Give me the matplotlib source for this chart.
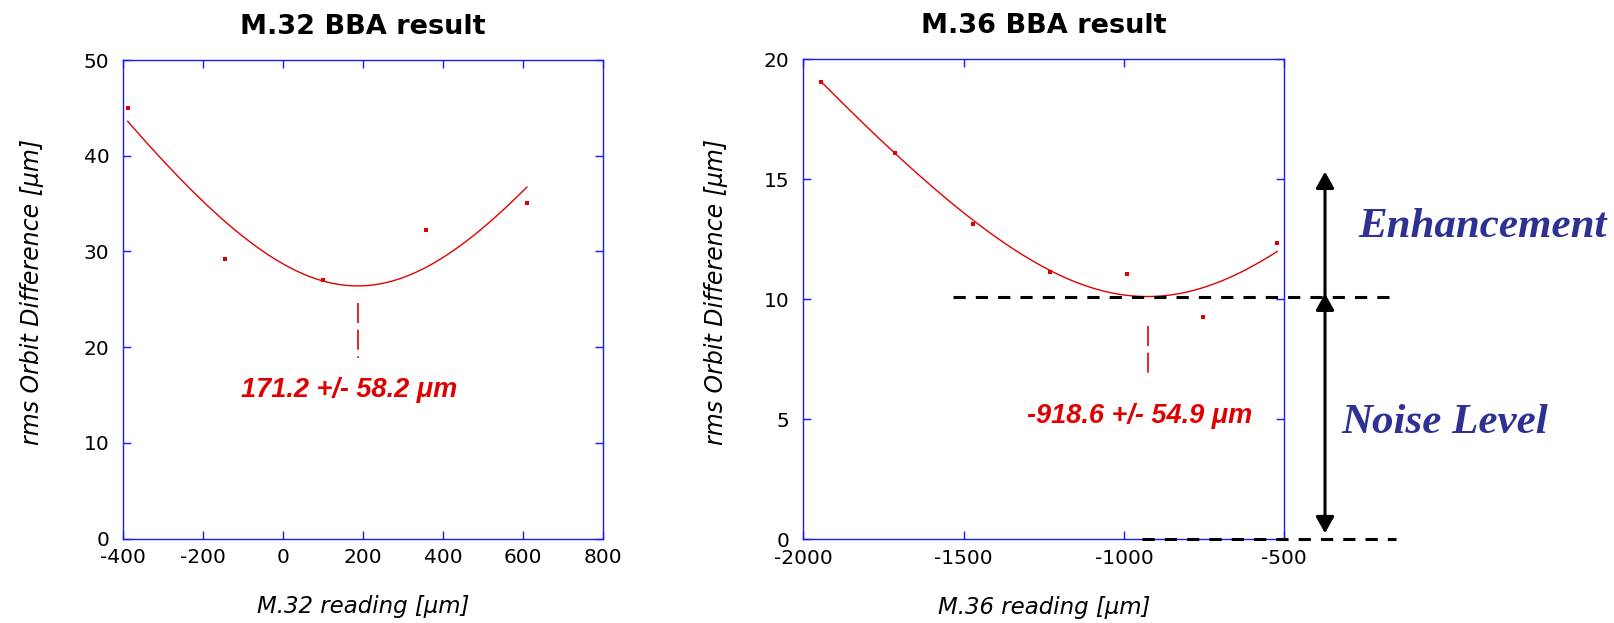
import numpy as np
import matplotlib
matplotlib.use("Agg")
import matplotlib.pyplot as plt

plt.rcParams["axes.unicode_minus"] = False

# M.32 scan (left panel)
m32_reading = [-389, -146, 100, 357, 609]
m32_rms = [45.0, 29.2, 27.0, 32.2, 35.1]
m32_center = 186
m32_label = "171.2 +/- 58.2 μm"

# M.36 scan (right panel)
m36_reading = [-1944, -1713, -1470, -1232, -992, -755, -522]
m36_rms = [19.05, 16.1, 13.15, 11.15, 11.07, 9.28, 12.35]
m36_center = -925
m36_label = "-918.6 +/- 54.9 μm"

noise_level = 10.1

W, H = 1615, 623
red = "#e00000"
blue = "#1a1aff"
navy = "#2e3192"

fig = plt.figure(figsize=(W / 100, H / 100), dpi=100)
ax1 = fig.add_axes([123.3 / W, 1 - 538.7 / H, 480 / W, 478.7 / H])
ax2 = fig.add_axes([803.4 / W, 1 - 539.3 / H, 480.9 / W, 480 / H])


def style(ax, title, xlabel):
    for s in ax.spines.values():
        s.set_color(blue)
        s.set_linewidth(1.0)
    ax.tick_params(direction="in", length=6, width=1, color=blue,
                   top=True, right=True, labelsize=14.5)
    ax.tick_params(axis="x", pad=7)
    ax.tick_params(axis="y", pad=10)
    ax.set_title(title, fontsize=19.5, fontweight="bold", pad=19)
    ax.set_xlabel(xlabel, fontsize=16.5, style="italic", labelpad=20)
    ax.set_ylabel("rms Orbit Difference [μm]", fontsize=17,
                  style="italic", labelpad=26)


def draw_scan(ax, x, y):
    # rms ~ sqrt(k^2 (x - x0)^2 + s^2): quadratic fit of rms^2
    x = np.asarray(x, float)
    y = np.asarray(y, float)
    coef = np.polyfit(x, y ** 2, 2)
    xs = np.linspace(x.min(), x.max(), 200)
    ax.plot(xs, np.sqrt(np.polyval(coef, xs)), color=red, lw=1.0)
    ax.plot(x, y, "s", color=red, ms=3, mew=0)


# left panel
draw_scan(ax1, m32_reading, m32_rms)
ax1.plot([m32_center, m32_center], [24.6, 18.9], color=red, lw=1.2,
         linestyle=(0, (12, 4)))
ax1.text(164.7, 14.84, m32_label, color=red, fontsize=19.5,
         family="Liberation Sans", weight="bold", style="italic",
         ha="center", va="baseline")
ax1.set_xlim(-400, 800)
ax1.set_ylim(0, 50)
ax1.set_xticks(range(-400, 801, 200))
ax1.set_yticks(range(0, 51, 10))
style(ax1, "M.32 BBA result", "M.32 reading [μm]")
ax1.yaxis.set_label_coords(-0.165, 0.516)

# right panel
draw_scan(ax2, m36_reading, m36_rms)
ax2.plot([m36_center, m36_center], [8.89, 6.7], color=red, lw=1.2,
         linestyle=(0, (12, 4)))
ax2.text(-952.7, 4.83, m36_label, color=red, fontsize=19.5,
         family="Liberation Sans", weight="bold", style="italic",
         ha="center", va="baseline")
ax2.set_xlim(-2000, -500)
ax2.set_ylim(0, 20)
ax2.set_xticks(range(-2000, -499, 500))
ax2.set_yticks(range(0, 21, 5))
style(ax2, "M.36 BBA result", "M.36 reading [μm]")
ax2.yaxis.set_label_coords(-0.156, 0.516)

# noise level / enhancement markers
ax2.plot([-1532, -165], [noise_level, noise_level], color="k", lw=2.2,
         linestyle=(0, (4, 3.3)), clip_on=False, zorder=5)
ax2.plot([-944, -152], [0, 0], color="k", lw=2.2,
         linestyle=(0, (4, 3.3)), clip_on=False, zorder=5)
head = "-|>,head_length=0.45,head_width=0.25"
ax2.annotate("", xy=(-373, 15.32), xytext=(-373, noise_level),
             arrowprops=dict(arrowstyle=head, color="k", lw=2.2,
                             mutation_scale=22, shrinkA=0, shrinkB=0),
             annotation_clip=False)
ax2.annotate("", xy=(-373, 0.25), xytext=(-373, 10.24),
             arrowprops=dict(arrowstyle="<|-|>,head_length=0.45,head_width=0.25",
                             color="k", lw=2.2, mutation_scale=22,
                             shrinkA=0, shrinkB=0),
             annotation_clip=False)

fig.text(1358 / W, 1 - 237.3 / H, "Enhancement", color=navy, fontsize=31,
         family="Liberation Serif", weight="bold", style="italic",
         va="baseline")
fig.text(1341.7 / W, 1 - 433.3 / H, "Noise Level", color=navy, fontsize=31,
         family="Liberation Serif", weight="bold", style="italic",
         va="baseline")

fig.savefig("out.png", dpi=100)
